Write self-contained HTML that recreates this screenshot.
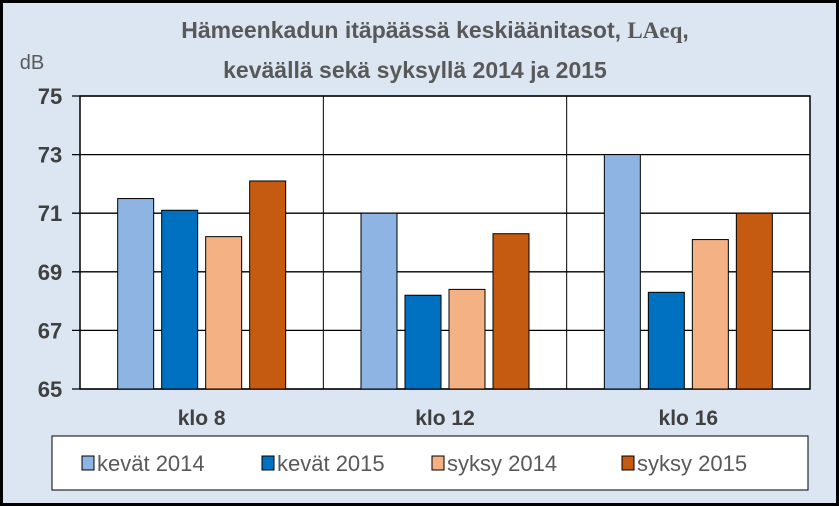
<!DOCTYPE html>
<html><head><meta charset="utf-8"><style>
body{margin:0;width:839px;height:506px;overflow:hidden;background:#000}
svg{display:block}
text{font-family:"Liberation Sans",sans-serif;}
</style></head><body>
<svg width="839" height="506">
<rect x="3" y="3" width="833" height="500" fill="#dce6f2"/>
<text x="435" y="38" text-anchor="middle" font-size="23" font-weight="bold" fill="#595959">Hämeenkadun itäpäässä keskiäänitasot, <tspan font-family="Liberation Serif">LAeq</tspan>,</text>
<text x="415" y="78" text-anchor="middle" font-size="23" font-weight="bold" fill="#595959">keväällä sekä syksyllä 2014 ja 2015</text>
<text x="32" y="69" text-anchor="middle" font-size="20" fill="#595959">dB</text>
<rect x="80" y="96" width="730" height="293" fill="#fff" stroke="#000" stroke-width="1.5"/>
<g id="grid"></g><g id="bars"></g><g id="ticks"></g>
<rect x="52" y="436" width="756" height="54" fill="#fff" stroke="#000" stroke-width="1"/>
<g id="legend"></g>
</svg>
<script>
const categories=["klo 8","klo 12","klo 16"];
const series=["kevät 2014","kevät 2015","syksy 2014","syksy 2015"];
const colors=["#8db4e2","#0070c0","#f4b183","#c55a11"];
const kevat2014=[71.5,71.0,73.0];
const kevat2015=[71.1,68.2,68.3];
const syksy2014=[70.2,68.4,70.1];
const syksy2015=[72.1,70.3,71.0];
const yTicks=[65,67,69,71,73,75];
const values=[kevat2014,kevat2015,syksy2014,syksy2015];
const NS="http://www.w3.org/2000/svg";
const X0=80,X1=810,Y0=389,Y1=96,ymin=65,ymax=75;
const y=v=>Y0-(v-ymin)/(ymax-ymin)*(Y0-Y1);
const cw=(X1-X0)/categories.length;
function mk(t,a,p){const e=document.createElementNS(NS,t);for(const k in a)e.setAttribute(k,a[k]);p.appendChild(e);return e;}
const grid=document.getElementById('grid'),bars=document.getElementById('bars'),ticks=document.getElementById('ticks'),leg=document.getElementById('legend');
yTicks.forEach(t=>{
 const l=mk('line',{x1:X0-8,x2:X1,y1:y(t),y2:y(t),stroke:'#000','stroke-width':1.3},grid);
 
 
 const tx=mk('text',{x:50,y:y(t)+8,'text-anchor':'middle','font-size':22,'font-weight':'bold',fill:'#404040'},ticks);
 tx.textContent=t;
 
 
});
for(let i=1;i<categories.length;i++){
 const l=mk('line',{x1:X0+cw*i,x2:X0+cw*i,y1:Y1,y2:Y0,stroke:'#000','stroke-width':1},grid);
 
 
}
const bw=36,gap=8,gw=bw*4+gap*3;
categories.forEach((c,ci)=>{
 const gx=X0+cw*ci+(cw-gw)/2;
 values.forEach((arr,si)=>{
  const v=arr[ci];
  const r=mk('rect',{x:gx+si*(bw+gap),y:y(v),width:bw,height:Y0-y(v),fill:colors[si],stroke:'#000','stroke-width':1},bars);
  
  
 });
 const t=mk('text',{x:X0+cw*ci+cw/2,y:425,'text-anchor':'middle','font-size':21,'font-weight':'bold',fill:'#404040'},ticks);
 t.textContent=c;
 
 
});
const lx=[82,262,432,622];
series.forEach((s,i)=>{
 const r=mk('rect',{x:lx[i],y:456,width:12,height:14,fill:colors[i],stroke:'#000','stroke-width':1},leg);
 
 
 const t=mk('text',{x:lx[i]+15,y:471,'font-size':22,fill:'#595959'},leg);
 t.textContent=s;
 
 
});
</script>
</body></html>
